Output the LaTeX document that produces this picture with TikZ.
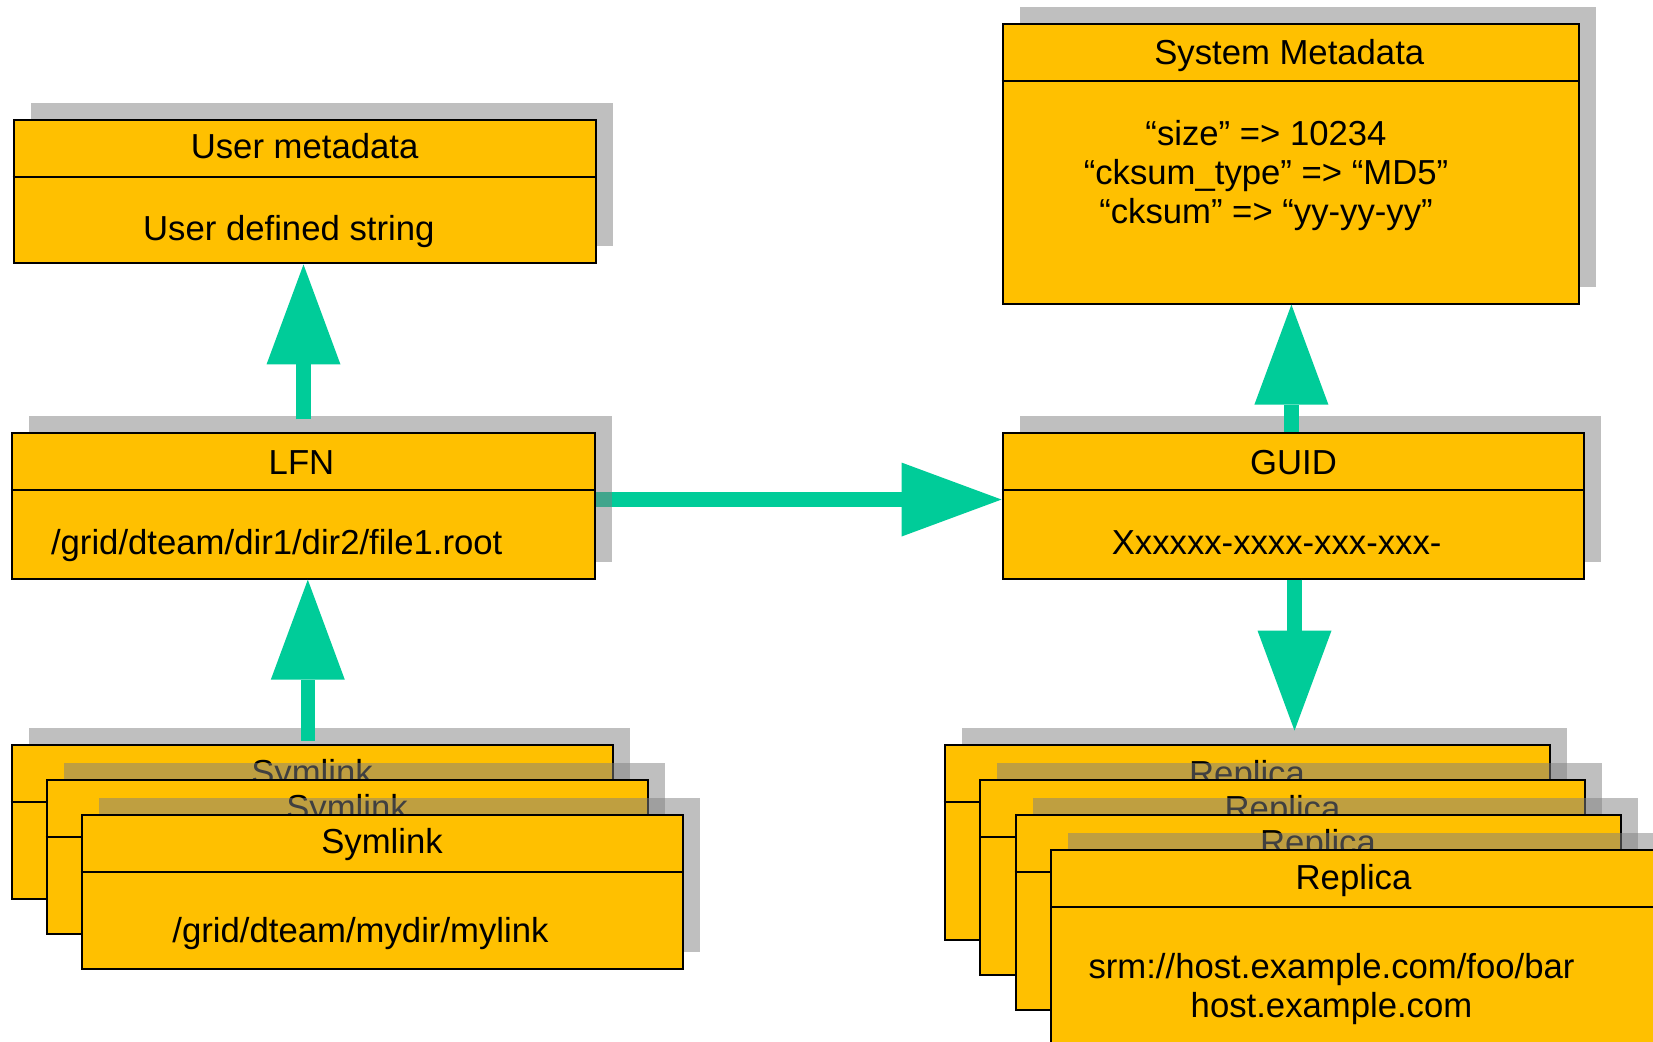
\documentclass[tikz,border=0pt]{standalone}
\usepackage{fontspec}
\setmainfont{Liberation Sans}
\usetikzlibrary{arrows.meta,calc,shadows}
\pgfdeclarelayer{behind}
\pgfsetlayers{behind,main}
\definecolor{cardyellow}{HTML}{FFC000}
\definecolor{flowgreen}{HTML}{00CC99}
% horizontal rule separating a card's title from its body
\newcommand\headrule[1]{\draw[cardline] ($(#1.north west)+(0,58)$) -- ($(#1.north east)+(0,58)$);}
\begin{document}
\begin{tikzpicture}[x=0.5pt,y=-0.5pt,
  card/.style={rectangle, draw=black, line width=1pt, fill=cardyellow, inner sep=0pt, anchor=north west,
    drop shadow={shadow xshift=8.5pt, shadow yshift=8.5pt, opacity=0.5, fill=black!50}},
  cardline/.style={draw=black, line width=1pt},
  txt/.style={inner sep=0pt, anchor=base, text=black, font=\fontsize{17.35}{20}\selectfont},
  flow/.style={draw=flowgreen, line width=7.3pt, line cap=butt,
    -{Triangle[length=50pt,width=37pt,line width=0pt]}},
  symcard/.style={card, minimum width=300.5pt, minimum height=77pt},
  repcard/.style={card, minimum width=302.5pt, minimum height=97.5pt},
]
\useasboundingbox (0,0) rectangle (1653,1042);

% ---- user metadata ----
\node[card, minimum width=291pt, minimum height=71.75pt] (umeta) at (12.6,119) {};
\headrule{umeta}
\node[txt] (umeta-t) at ($(umeta.north)+(0,40)$) {User metadata};
\node[txt] (umeta-b) at ($(umeta.north)+(-15.8,121.2)$) {User defined string};

% ---- logical file name ----
\node[card, minimum width=291.5pt, minimum height=72.85pt] (lfn) at (10.5,432) {};
\headrule{lfn}
\node[txt] (lfn-t) at ($(lfn.north)+(-1.5,42)$) {LFN};
\node[txt] (lfn-b) at ($(lfn.north)+(-26.3,122.4)$) {/grid/dteam/dir1/dir2/file1.root};

% ---- system metadata ----
\node[card, minimum width=288.25pt, minimum height=139.7pt] (sysmeta) at (1001.5,23.2) {};
\headrule{sysmeta}
\node[txt] (sysmeta-t) at ($(sysmeta.north)+(-1.5,41)$) {System Metadata};
\node[txt] (sysmeta-a) at ($(sysmeta.north)+(-24.75,122.1)$) {“size” => 10234};
\node[txt] (sysmeta-b) at ($(sysmeta.north)+(-24.75,161.1)$) {“cksum\_type” => “MD5”};
\node[txt] (sysmeta-c) at ($(sysmeta.north)+(-24.75,200.1)$) {“cksum” => “yy-yy-yy”};

% ---- GUID ----
\node[card, minimum width=290.5pt, minimum height=72.85pt] (guid) at (1001.5,432) {};
\headrule{guid}
\node[txt] (guid-t) at ($(guid.north)+(0.5,42)$) {GUID};
\node[txt] (guid-b) at ($(guid.north)+(-16.4,122.4)$) {Xxxxxx-xxxx-xxx-xxx-};

% ---- stack of symlinks ----
\node[symcard] (s1) at (10.5,744.3) {};
\headrule{s1}
\node[txt] (s1-t) at ($(s1.north)+(0,40)$) {Symlink};
\node[symcard] (s2) at (45.5,779) {};
\headrule{s2}
\node[txt] (s2-t) at ($(s2.north)+(0,40)$) {Symlink};
\node[symcard] (s3) at (80.5,813.8) {};
\headrule{s3}
\node[txt] (s3-t) at ($(s3.north)+(0,40)$) {Symlink};
\node[txt] (s3-b) at ($(s3.north)+(-21.5,128.5)$) {/grid/dteam/mydir/mylink};

% ---- stack of replicas ----
\node[repcard] (r1) at (943.5,744.3) {};
\headrule{r1}
\node[txt] (r1-t) at ($(r1.north)+(0,41)$) {Replica};
\node[repcard] (r2) at (979,779) {};
\headrule{r2}
\node[txt] (r2-t) at ($(r2.north)+(0,41)$) {Replica};
\node[repcard] (r3) at (1014.5,813.8) {};
\headrule{r3}
\node[txt] (r3-t) at ($(r3.north)+(0,41)$) {Replica};
\node[repcard] (r4) at (1050,848.6) {};
\headrule{r4}
\node[txt] (r4-t) at ($(r4.north)+(0,41)$) {Replica};
\node[txt] (r4-a) at ($(r4.north)+(-22,129.5)$) {srm://host.example.com/foo/bar};
\node[txt] (r4-b) at ($(r4.north)+(-22,168.5)$) {host.example.com};

% ---- connectors ----
\coordinate (lfnout) at ($(lfn.east)+(0,-6.3)$);
\coordinate (lfntop) at ($(lfn.north)+(0.5,-12.5)$);
\coordinate (symfoot) at ($(s1.north)+(-4.2,-3.3)$);
\coordinate (guidtop) at ($(guid.north)+(-1.6,0)$);
\coordinate (guidbot) at ($(guid.south)+(1.5,0)$);
\coordinate (reptip) at ($(guidbot |- r1.north)+(0,-13.7)$);

\begin{pgfonlayer}{behind}
  \fill[white] (0,0) rectangle (1653,1042);
  \draw[flow] (lfnout) -- (lfnout -| guid.west);
\end{pgfonlayer}
\draw[flow] (lfntop) -- (lfntop |- umeta.south);
\draw[flow] (symfoot) -- (symfoot |- lfn.south);
\draw[flow] (guidtop) -- (guidtop |- sysmeta.south);
\draw[flow] (guidbot) -- (reptip);
\end{tikzpicture}
\end{document}
